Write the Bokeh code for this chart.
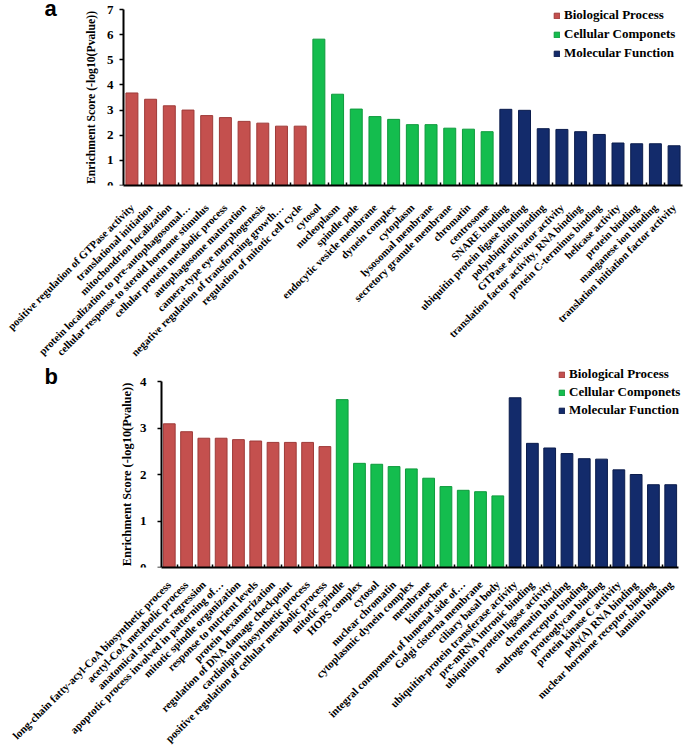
from math import pi
from bokeh.plotting import figure
from bokeh.models import ColumnDataSource, FixedTicker, Legend, LegendItem, Label, Range1d
from bokeh.embed import file_html
from bokeh.resources import INLINE

# ---------------- data: panel a ----------------
a_bp_terms = ["positive regulation of GTPase activity", "translational initiation",
              "mitochondrion localization", "protein localization to pre-autophagosomal\u2026",
              "cellular response to steroid hormone stimulus", "cellular protein metabolic process",
              "autophagosome maturation", "camera-type eye morphogenesis",
              "negative regulation of transforming growth\u2026", "regulation of mitotic cell cycle"]
a_bp_values = [3.68, 3.43, 3.17, 3.00, 2.78, 2.70, 2.55, 2.48, 2.36, 2.36]
a_cc_terms = ["cytosol", "nucleoplasm", "spindle pole", "endocytic vesicle membrane",
              "dynein complex", "cytoplasm", "lysosomal membrane",
              "secretory granule membrane", "chromatin", "centrosome"]
a_cc_values = [5.82, 3.63, 3.04, 2.74, 2.63, 2.42, 2.42, 2.28, 2.24, 2.14]
a_mf_terms = ["SNARE binding", "ubiquitin protein ligase binding", "polyubiquitin binding",
              "GTPase activator activity", "translation factor activity, RNA binding",
              "protein C-terminus binding", "helicase activity", "protein binding",
              "manganese ion binding", "translation initiation factor activity"]
a_mf_values = [3.03, 2.99, 2.26, 2.23, 2.14, 2.03, 1.69, 1.66, 1.66, 1.58]

# ---------------- data: panel b ----------------
b_bp_terms = ["long-chain fatty-acyl-CoA biosynthetic process", "acetyl-CoA metabolic process",
              "anatomical structure regression", "apoptotic process involved in patterning of\u2026",
              "mitotic spindle organization", "response to nutrient levels",
              "protein hexamerization", "regulation of DNA damage checkpoint",
              "cardiolipin biosynthetic process", "positive regulation of cellular metabolic process"]
b_bp_values = [3.09, 2.92, 2.78, 2.78, 2.75, 2.72, 2.69, 2.69, 2.69, 2.60]
b_cc_terms = ["mitotic spindle", "HOPS complex", "cytosol", "nuclear chromatin",
              "cytoplasmic dynein complex", "membrane", "kinetochore",
              "integral component of lumenal side of\u2026", "Golgi cisterna membrane",
              "ciliary basal body"]
b_cc_values = [3.61, 2.24, 2.22, 2.17, 2.12, 1.92, 1.74, 1.66, 1.63, 1.54]
b_mf_terms = ["ubiquitin-protein transferase activity", "pre-mRNA intronic binding",
              "ubiquitin protein ligase activity", "chromatin binding",
              "androgen receptor binding", "proteoglycan binding", "protein kinase C activity",
              "poly(A) RNA binding", "nuclear hormone receptor binding", "laminin binding"]
b_mf_values = [3.65, 2.67, 2.57, 2.45, 2.34, 2.33, 2.10, 2.00, 1.78, 1.78]

categories = ["Biological Process", "Cellular Componets", "Molecular Function"]
colors = ["#C4504E", "#14BD4E", "#132B6B"]
edges = ["#9E3A38", "#0E9A3C", "#0B1C4C"]

SERIF = "Liberation Serif"
FRAME_LEFT = 44
WIDTH = 685


def make_panel(groups, ymax, letter, height, axis_px, right_px, ymax_px, zero_px, bar_w,
               legend_xy, legend_spacing, letter_xy, tick_standoff, label_standoff, xfont,
               xstandoff, yfont):
    n = sum(len(t) for t, _ in groups)
    # layout geometry (pixels) -> range extents
    ppu_x = (right_px - axis_px) / (n - 0.1)
    x_start = -0.45 - (axis_px - FRAME_LEFT) / ppu_x
    x_last = n - 0.55
    x_end = x_last + (WIDTH - right_px) / ppu_x
    y_end = ymax * zero_px / (zero_px - ymax_px)
    p = figure(width=WIDTH, height=height, output_backend="svg", toolbar_location=None,
               x_range=Range1d(x_start, x_end), y_range=Range1d(0, y_end),
               min_border_left=FRAME_LEFT, min_border_right=0, min_border_top=0,
               min_border_bottom=height - zero_px)
    p.outline_line_color = None
    p.xgrid.visible = False
    p.ygrid.visible = False

    items = []
    labels = {}
    start = 0
    for (terms, vals), cat, col, ec in zip(groups, categories, colors, edges):
        xs = list(range(start, start + len(terms)))
        for x, t in zip(xs, terms):
            labels[x] = t
        src = ColumnDataSource(dict(x=xs, top=vals))
        r = p.vbar(x="x", top="top", width=bar_w, source=src, fill_color=col,
                   line_color=ec, line_width=1)
        items.append(LegendItem(label=cat, renderers=[r]))
        start += len(terms)

    centers = list(range(n))
    bounds = [i + 0.5 for i in range(n - 1)]
    p.xaxis.ticker = FixedTicker(ticks=centers, minor_ticks=bounds)
    p.xaxis.bounds = (-0.45, x_last)
    p.xaxis.major_label_overrides = labels
    p.xaxis.major_label_orientation = pi / 4
    p.xaxis.major_tick_line_color = None
    p.xaxis.minor_tick_in = 3
    p.xaxis.minor_tick_out = 0
    p.xaxis.minor_tick_line_color = "black"
    p.xaxis.minor_tick_line_width = 1.5
    p.xaxis.axis_line_width = 2
    p.xaxis.axis_line_color = "black"
    p.xaxis.major_label_text_font = SERIF
    p.xaxis.major_label_text_font_style = "bold"
    p.xaxis.major_label_text_font_size = xfont
    p.xaxis.major_label_text_color = "black"
    p.xaxis.major_label_standoff = xstandoff

    p.yaxis.fixed_location = -0.45
    p.yaxis.bounds = (0, ymax)
    p.yaxis.ticker = FixedTicker(ticks=list(range(0, int(ymax) + 1)))
    p.yaxis.axis_line_width = 2
    p.yaxis.axis_line_color = "black"
    p.yaxis.major_tick_out = 4
    p.yaxis.major_tick_in = 0
    p.yaxis.major_tick_line_width = 1.5
    p.yaxis.minor_tick_line_color = None
    p.yaxis.major_label_text_font = SERIF
    p.yaxis.major_label_text_font_style = "bold"
    p.yaxis.major_label_text_font_size = "13px"
    p.yaxis.major_label_text_color = "black"
    p.yaxis.major_label_standoff = tick_standoff
    p.yaxis.axis_label = "Enrichment Score (-log10(Pvalue))"
    p.yaxis.axis_label_text_font = SERIF
    p.yaxis.axis_label_text_font_style = "bold"
    p.yaxis.axis_label_text_font_size = yfont
    p.yaxis.axis_label_text_color = "black"
    p.yaxis.axis_label_standoff = label_standoff

    legend = Legend(items=items, location=legend_xy, orientation="vertical",
                    glyph_width=7, glyph_height=7, label_height=14, spacing=legend_spacing,
                    label_standoff=4, padding=0, margin=0,
                    border_line_color=None, background_fill_alpha=0,
                    label_text_font=SERIF, label_text_font_style="bold",
                    label_text_font_size="13px", label_text_color="black")
    p.add_layout(legend, "center")

    p.add_layout(Label(x=letter_xy[0], y=letter_xy[1], x_units="screen", y_units="screen",
                       text=letter, text_font="Liberation Sans", text_font_style="bold",
                       text_font_size="22px", text_color="black", text_baseline="alphabetic"))
    return p


pa = make_panel([(a_bp_terms, a_bp_values), (a_cc_terms, a_cc_values), (a_mf_terms, a_mf_values)],
                7, "a", 366, 123, 682, 9, 185, 0.64, (509, 124), 3, (0, 177), 6, 6,
                "10.8px", 14, "11.7px")
pb = make_panel([(b_bp_terms, b_bp_values), (b_cc_terms, b_cc_values), (b_mf_terms, b_mf_values)],
                4, "b", 388, 161, 678, 15, 201, 0.68, (514, 149), 2, (0, 191), 11, 3,
                "11px", 9, "12.4px")

open("out.html", "w").write(file_html([pa, pb], INLINE))
